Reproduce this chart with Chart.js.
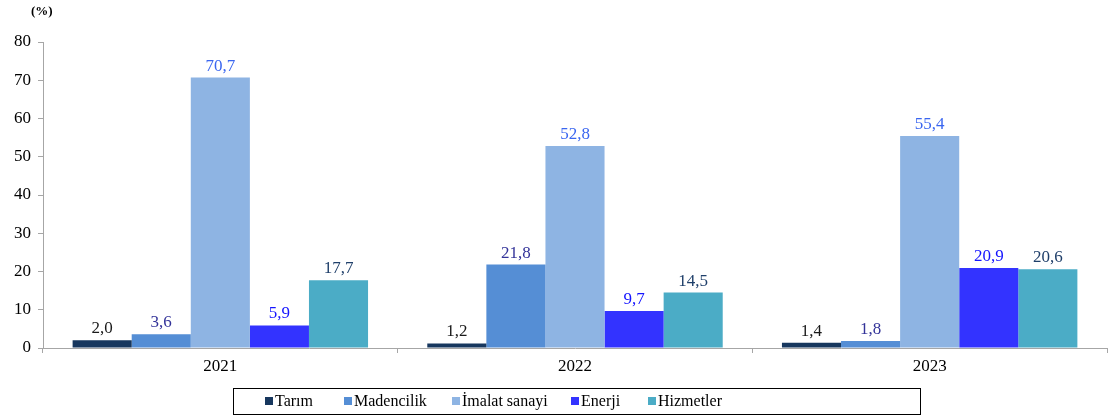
<!DOCTYPE html>
<html>
<head>
<meta charset="utf-8">
<script src="https://cdn.jsdelivr.net/npm/chart.js@4/dist/chart.umd.min.js"></script>
<style>
  html, body { margin: 0; padding: 0; background: #fff; }
  #wrap { width: 1109px; height: 419px; }
</style>
</head>
<body>
<div id="wrap"><canvas id="chart" width="1109" height="419"></canvas></div>
<script>
const years = ['2021', '2022', '2023'];
const seriesNames = ['Tarım', 'Madencilik', 'İmalat sanayi', 'Enerji', 'Hizmetler'];
const tarim = [2.0, 1.2, 1.4];
const madencilik = [3.6, 21.8, 1.8];
const imalat = [70.7, 52.8, 55.4];
const enerji = [5.9, 9.7, 20.9];
const hizmetler = [17.7, 14.5, 20.6];
const yTicks = [0, 10, 20, 30, 40, 50, 60, 70, 80];

const barColors = ['#17375E', '#558ED5', '#8EB4E3', '#3333FF', '#4BACC6'];
const labelColors = ['#1a1a1a', '#333399', '#3A66F0', '#1515FF', '#1F3F6A'];
const FONT = '"Liberation Serif", "Times New Roman", serif';

const allValues = [tarim, madencilik, imalat, enerji, hizmetler];

// value labels above each bar, comma as decimal mark
const barLabels = {
  id: 'barLabels',
  afterDatasetsDraw(chart) {
    const ctx = chart.ctx;
    ctx.save();
    ctx.font = '17px ' + FONT;
    ctx.textAlign = 'center';
    ctx.textBaseline = 'bottom';
    chart.data.datasets.forEach((ds, i) => {
      const meta = chart.getDatasetMeta(i);
      ctx.fillStyle = labelColors[i];
      meta.data.forEach((bar, j) => {
        const txt = ds.data[j].toFixed(1).replace('.', ',');
        ctx.fillText(txt, bar.x, bar.y - 3);
      });
    });
    ctx.restore();
  }
};

// "(%)" title and boxed legend under the axis
const extras = {
  id: 'extras',
  afterDraw(chart) {
    const ctx = chart.ctx;
    ctx.save();
    ctx.fillStyle = '#000';
    ctx.font = 'bold 13px ' + FONT;
    ctx.textAlign = 'left';
    ctx.textBaseline = 'middle';
    ctx.fillText('(%)', 31, 12);

    // legend box
    ctx.strokeStyle = '#000';
    ctx.lineWidth = 1;
    ctx.strokeRect(233.5, 388.5, 687, 26);
    ctx.font = '16px ' + FONT;
    const startXs = [265, 344, 452, 571, 648];
    seriesNames.forEach((name, i) => {
      const x = startXs[i];
      ctx.fillStyle = barColors[i];
      ctx.fillRect(x, 397, 8, 8);
      ctx.fillStyle = '#000';
      ctx.fillText(name, x + 10, 402);
    });
    ctx.restore();
  }
};

new Chart(document.getElementById('chart'), {
  type: 'bar',
  data: {
    labels: years,
    datasets: seriesNames.map((name, i) => ({
      label: name,
      data: allValues[i],
      backgroundColor: barColors[i],
      borderWidth: 0,
      barPercentage: 1,
      categoryPercentage: 0.833
    }))
  },
  options: {
    responsive: false,
    animation: false,
    devicePixelRatio: 1,
    layout: { padding: { top: 42, right: 2, bottom: 41, left: 0 } },
    plugins: {
      legend: { display: false },
      tooltip: { enabled: false }
    },
    scales: {
      x: {
        offset: true,
        grid: {
          display: true,
          drawOnChartArea: false,
          offset: true,
          tickLength: 5,
          color: '#A6A6A6'
        },
        border: { color: '#A6A6A6', width: 1 },
        ticks: {
          color: '#000',
          font: { family: FONT, size: 17 },
          padding: 3
        },
        afterFit(scale) { scale.height = 30; }
      },
      y: {
        min: 0,
        max: 80,
        afterBuildTicks(scale) { scale.ticks = yTicks.map(v => ({ value: v })); },
        grid: {
          display: true,
          drawOnChartArea: false,
          tickLength: 5,
          color: '#A6A6A6'
        },
        border: { color: '#A6A6A6', width: 1 },
        ticks: {
          color: '#000',
          font: { family: FONT, size: 17 },
          padding: 7
        },
        afterFit(scale) { scale.width = 43; }
      }
    }
  },
  plugins: [barLabels, extras]
});
</script>
</body>
</html>
